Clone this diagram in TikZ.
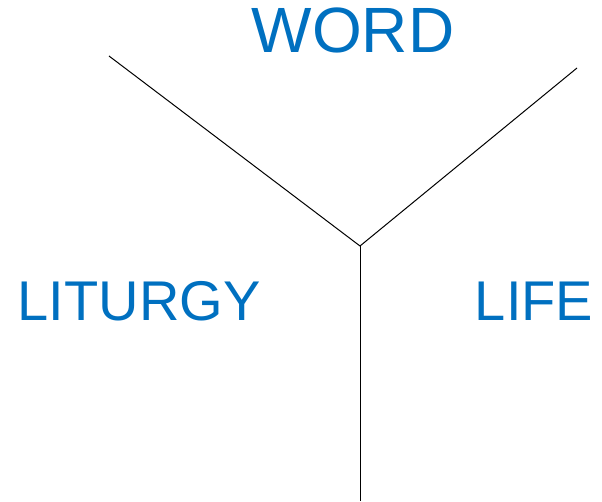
\documentclass[tikz,border=0pt]{standalone}
\usepackage{fontspec}
\setmainfont{Liberation Sans}
\definecolor{wordblue}{HTML}{0070C0}
\begin{document}
\begin{tikzpicture}[x=1pt,y=1pt,
  lbl/.style={text=wordblue,inner sep=0pt,anchor=base},
  branch/.style={draw=black,line width=1pt}]
\useasboundingbox (0,0) rectangle (602,501);
\coordinate (c) at (360,255);
\coordinate (tl) at (109,445);
\coordinate (tr) at (577,433);
\coordinate (b) at (360,0);
\draw[branch] (tl) -- (c) -- (tr);
\draw[branch] (c) -- (b);
\node[lbl,font=\fontsize{64}{64}\selectfont] (word) at (353,448) {WORD};
\node[lbl,font=\fontsize{56}{56}\selectfont] (liturgy) at (139,181) {LITURGY};
\node[lbl,font=\fontsize{56}{56}\selectfont] (life) at (534,181) {LIFE};
\end{tikzpicture}
\end{document}
